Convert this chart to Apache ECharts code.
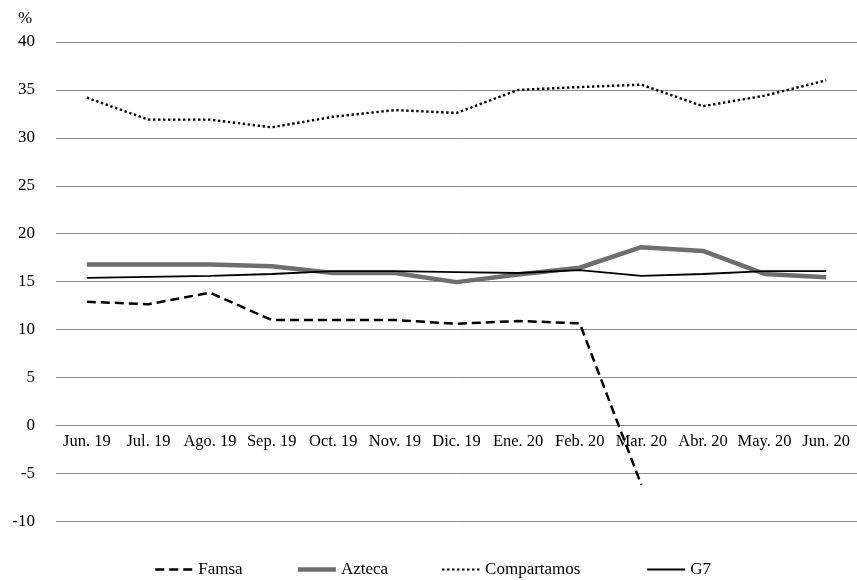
<!DOCTYPE html>
<html>
<head>
<meta charset="utf-8">
<script src="https://cdn.jsdelivr.net/npm/echarts@6/dist/echarts.min.js"></script>
<style>
html,body{margin:0;padding:0;background:#fff;}
#chart{width:857px;height:580px;}
</style>
</head>
<body>
<div id="chart"></div>
<script>
const categories = ['Jun. 19','Jul. 19','Ago. 19','Sep. 19','Oct. 19','Nov. 19','Dic. 19','Ene. 20','Feb. 20','Mar. 20','Abr. 20','May. 20','Jun. 20'];
const famsa = [12.9, 12.65, 13.85, 11.0, 11.0, 11.0, 10.6, 10.9, 10.65, -6.2, null, null, null];
const azteca = [16.8, 16.8, 16.8, 16.6, 15.9, 15.9, 14.95, 15.75, 16.45, 18.6, 18.2, 15.8, 15.45];
const compartamos = [34.2, 31.9, 31.9, 31.1, 32.2, 32.9, 32.6, 35.0, 35.3, 35.55, 33.3, 34.4, 36.0];
const g7 = [15.4, 15.5, 15.6, 15.8, 16.1, 16.1, 16.0, 15.9, 16.2, 15.6, 15.8, 16.1, 16.1];
const seriesNames = ['Famsa','Azteca','Compartamos','G7'];
const yMin = -10, yMax = 40, yStep = 5;

const FONT = '"Liberation Serif", "DejaVu Serif", serif';
const chart = echarts.init(document.getElementById('chart'));
const option = {
  animation: false,
  backgroundColor: '#ffffff',
  title: {
    text: '%', left: 13, top: 5,
    textStyle: {fontFamily: FONT, fontSize: 17, fontWeight: 'normal', color: '#000'}
  },
  grid: {left: 56, right: -7, top: 42, bottom: 58.7, containLabel: false},
  legend: {
    data: [
      {name: seriesNames[0], lineStyle: {width: 2.5}},
      {name: seriesNames[1], lineStyle: {width: 4.5}},
      {name: seriesNames[2], lineStyle: {width: 2}},
      {name: seriesNames[3], lineStyle: {width: 2}}
    ],
    formatter: function (name) { return name === 'Compartamos' ? name + '   ' : name; },
    left: 149, top: 556,
    itemWidth: 38, itemHeight: 16, itemGap: 53,
    itemStyle: {opacity: 0},
    textStyle: {fontFamily: FONT, fontSize: 17, color: '#000'}
  },
  xAxis: {
    type: 'category',
    data: categories,
    boundaryGap: true,
    offset: 0,
    axisLine: {show: true, onZero: false, lineStyle: {color: '#8a8a8a', width: 1}},
    axisTick: {show: false},
    axisLabel: {interval: 0, margin: 8, fontFamily: FONT, fontSize: 16.5, color: '#000'},
    splitLine: {show: false}
  },
  yAxis: {
    type: 'value',
    min: yMin, max: yMax, interval: yStep,
    axisLine: {show: false},
    axisTick: {show: false},
    axisLabel: {margin: 21, fontFamily: FONT, fontSize: 17, color: '#000'},
    splitLine: {show: true, lineStyle: {color: '#8a8a8a', width: 1}}
  },
  series: [
    {name: 'Famsa', type: 'line', data: famsa, showSymbol: false, symbol: 'none', connectNulls: false,
     lineStyle: {color: '#000', width: 2.5, type: [9, 5]}, itemStyle: {color: '#000'}, z: 3},
    {name: 'Azteca', type: 'line', data: azteca, showSymbol: false, symbol: 'none',
     lineStyle: {color: '#6e6e6e', width: 4.5}, itemStyle: {color: '#6e6e6e'}, z: 2},
    {name: 'Compartamos', type: 'line', data: compartamos, showSymbol: false, symbol: 'none',
     lineStyle: {color: '#000', width: 2.4, type: [2.4, 2.6], cap: 'butt'}, itemStyle: {color: '#000'}, z: 3},
    {name: 'G7', type: 'line', data: g7, showSymbol: false, symbol: 'none',
     lineStyle: {color: '#000', width: 1.8}, itemStyle: {color: '#000'}, z: 4}
  ]
};
chart.setOption(option);
// Move the category axis (and its labels) onto the value 0 line, using the library's own scale.
const zeroY = chart.convertToPixel({yAxisIndex: 0}, 0);
const bottomY = chart.convertToPixel({yAxisIndex: 0}, yMin);
chart.setOption({xAxis: {offset: zeroY - bottomY}});
</script>
</body>
</html>
